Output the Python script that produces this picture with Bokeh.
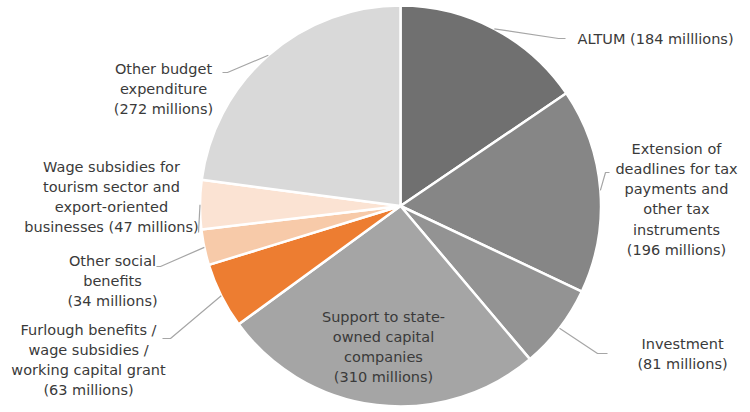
import numpy as np
from bokeh.plotting import figure
from bokeh.models import Range1d, ColumnDataSource
from bokeh.core.properties import value
from bokeh.embed import file_html
from bokeh.resources import INLINE

# Budget measures (EUR millions), clockwise from 12 o'clock
categories = [
    "ALTUM",
    "Extension of deadlines for tax payments and other tax instruments",
    "Investment",
    "Support to state-owned capital companies",
    "Furlough benefits / wage subsidies / working capital grant",
    "Other social benefits",
    "Wage subsidies for tourism sector and export-oriented businesses",
    "Other budget expenditure",
]
amounts = [184, 196, 81, 310, 63, 34, 47, 272]
unit_words = ["milllions", "millions", "millions", "millions",
              "millions", "millions", "millions", "millions"]
slice_colors = ["#707070", "#868686", "#939393", "#a5a5a5",
                "#ed7d31", "#f7caa9", "#fbe3d3", "#d9d9d9"]

# Label text lines (value part appended from amounts)
label_heads = [
    ["ALTUM"],
    ["Extension of", "deadlines for tax", "payments and", "other tax", "instruments"],
    ["Investment"],
    ["Support to state-", "owned capital", "companies"],
    ["Furlough benefits /", "wage subsidies /", "working capital grant"],
    ["Other social", "benefits"],
    ["Wage subsidies for", "tourism sector and", "export-oriented", "businesses"],
    ["Other budget", "expenditure"],
]
inline_value = [True, False, False, False, False, False, True, False]

W, H = 750, 412
CX, CY, R = 400.0, 205.5, 200.5          # pie centre / radius in screen pixels
FONT = "DejaVu Sans"
FSIZE = "14.5px"
LINE_STEP = 20.3

# label placement: centre x, first-line y (screen px)
label_pos = [(655, 38), (676, 148), (682, 343), (383, 316),
             (88, 329), (112, 260), (111, 166), (163, 68)]
# leader elbows (screen px) after the slice-edge anchor point
leader_bends = [
    [(558, 38), (565, 38)],
    [(605, 172), (609, 172)],
    [(597, 353), (607, 353)],
    None,
    [(170, 338), (162, 338)],
    [(160, 266), (156, 266)],
    [(198, 232)],
    [(227, 72), (222, 72)],
]

def sy(y):
    return H - y

total = float(sum(amounts))
cum = np.concatenate([[0.0], np.cumsum(amounts)])
frac_start = cum[:-1] / total
frac_end = cum[1:] / total
# clockwise from top -> math angles
ang_start = np.pi / 2 - 2 * np.pi * frac_start
ang_end = np.pi / 2 - 2 * np.pi * frac_end

p = figure(width=W, height=H, x_range=Range1d(0, W), y_range=Range1d(0, H),
           output_backend="svg", toolbar_location=None, min_border=0)
p.axis.visible = False
p.grid.visible = False
p.outline_line_color = None
p.background_fill_color = "white"
p.border_fill_color = "white"

src = ColumnDataSource(dict(cat=categories, amt=amounts, color=slice_colors,
                            a0=ang_end, a1=ang_start))
p.wedge(x=CX, y=sy(CY), radius=R, start_angle="a0", end_angle="a1",
        direction="anticlock", fill_color="color", line_color="white",
        line_width=2.5, source=src)

# leader lines
for i, bends in enumerate(leader_bends):
    if bends is None:
        continue
    mid = (ang_start[i] + ang_end[i]) / 2
    xs = [CX + R * np.cos(mid)] + [b[0] for b in bends]
    ys = [sy(CY) + R * np.sin(mid)] + [sy(b[1]) for b in bends]
    p.line(xs, ys, line_color="#a6a6a6", line_width=1.2)

# labels
tx, ty, tt = [], [], []
for i, heads in enumerate(label_heads):
    val = f"({amounts[i]} {unit_words[i]})"
    lines = list(heads)
    if inline_value[i]:
        lines[-1] = lines[-1] + " " + val
    else:
        lines.append(val)
    cx, y0 = label_pos[i]
    for k, ln in enumerate(lines):
        tx.append(cx)
        ty.append(sy(y0 + k * LINE_STEP))
        tt.append(ln)

p.text(x=tx, y=ty, text=tt, text_font=value(FONT), text_font_size=FSIZE,
       text_color="#3a3a3a", text_align="center", text_baseline="middle")

open("out.html", "w").write(file_html(p, INLINE))
